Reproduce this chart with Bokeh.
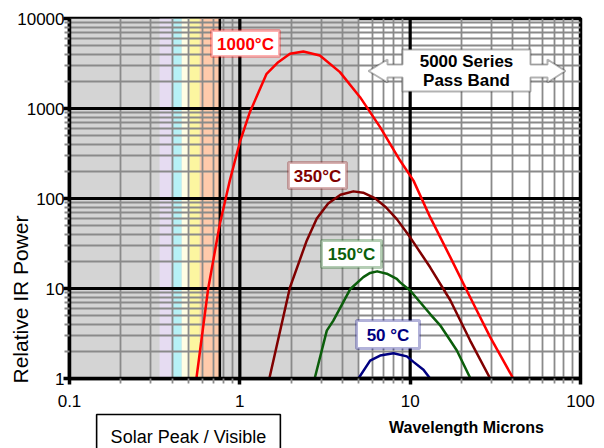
import math

from bokeh.plotting import figure
from bokeh.models import (FixedTicker, CustomJSTickFormatter, BoxAnnotation, Span,
                          Label, PolyAnnotation)
from bokeh.embed import file_html
from bokeh.resources import INLINE

# ---- data -----------------------------------------------------------------
X_TICKS = [0.1, 1, 10, 100]
Y_TICKS = [1, 10, 100, 1000, 10000]

# relative spectral power vs wavelength (microns) for four source temperatures
wl_1000 = [0.556, 0.652, 0.763, 0.809, 0.873, 1.0, 1.145, 1.436, 1.68, 1.97, 2.36,
           2.95, 3.87, 5.08, 6.66, 8.73, 10.46, 13.1, 17.2, 22.5, 29.5, 40.3]
pw_1000 = [1.0, 10, 52, 84, 158, 422, 910, 2430, 3270, 4050, 4300,
           3880, 2535, 1336, 621, 264, 158, 62, 22.3, 8.0, 2.88, 1.0]

wl_350 = [1.49, 1.97, 2.47, 2.83, 3.3, 3.9, 4.64, 5.3, 6.2, 7.2, 8.35, 10, 13.1,
          17.2, 22.5, 29.5]
pw_350 = [1.0, 10.3, 34, 60, 88, 110, 120, 116, 101, 80, 59, 37, 17.2,
          7.4, 2.64, 1.0]

wl_150 = [2.75, 3.24, 3.54, 4.44, 5.31, 5.82, 6.4, 7.29, 8.35, 8.73, 10, 13.1, 15,
          17.2, 18.8, 22.6]
pw_150 = [1.0, 3.4, 4.4, 9.8, 13.4, 14.9, 15.5, 14.6, 12.8, 11.7, 9.5, 5.2, 3.9,
          2.64, 2.05, 1.0]

wl_50 = [4.97, 5.82, 6.66, 7.98, 9.56, 10.5, 11.97, 13.1]
pw_50 = [1.0, 1.58, 1.8, 1.91, 1.76, 1.52, 1.25, 1.0]

series = [
    ("1000°C", wl_1000, pw_1000, "#ff0000"),
    ("350°C", wl_350, pw_350, "#800000"),
    ("150°C", wl_150, pw_150, "#0b5e0b"),
    ("50 °C", wl_50, pw_50, "#000080"),
]

# visible-light colour strips (edges in microns), shaded band, end of visible
vis_edges = [0.338, 0.398, 0.456, 0.508, 0.582, 0.763]
vis_colors = ["#e6dcf2", "#b6f1f6", "#fffde4", "#fcf6a0", "#ffcaab"]
SHADED_BAND = (0.1, 5.0)
VIS_LIMIT = 0.763

# ---- figure geometry --------------------------------------------------------
W, H = 604, 448
LEFT, TOP, RIGHT, BOTTOM = 69, 18, 580, 378
X_LO, X_HI = X_TICKS[0], X_TICKS[-1]
Y_LO, Y_HI = Y_TICKS[0], Y_TICKS[-1]
FONT = "Liberation Sans"


def at(px, py):
    """Canvas pixel position -> data coordinates of the log/log frame."""
    fx = (px - LEFT) / (RIGHT - LEFT)
    fy = (py - TOP) / (BOTTOM - TOP)
    x = 10 ** (math.log10(X_LO) + fx * (math.log10(X_HI) - math.log10(X_LO)))
    y = 10 ** (math.log10(Y_HI) - fy * (math.log10(Y_HI) - math.log10(Y_LO)))
    return x, y


def poly(points, line_color="black", line_width=2.0, fill="white"):
    xs, ys = zip(*(at(px, py) for px, py in points))
    return PolyAnnotation(xs=list(xs), ys=list(ys), fill_color=fill, fill_alpha=1.0,
                          line_color=line_color, line_width=line_width)


def text(px, py, s, size="17px", color="black", bold=False, angle=0.0, **kw):
    x, y = at(px, py)
    return Label(x=x, y=y, text=s, text_align="center", text_baseline="middle",
                 text_font=FONT, text_font_size=size, text_color=color,
                 text_font_style="bold" if bold else "normal", angle=angle, **kw)


p = figure(width=W, height=H, x_axis_type="log", y_axis_type="log",
           x_range=(X_LO, X_HI), y_range=(Y_LO, Y_HI),
           title=None, output_backend="svg", toolbar_location=None,
           min_border_left=LEFT, min_border_right=W - RIGHT,
           min_border_top=TOP, min_border_bottom=H - BOTTOM)
p.background_fill_color = "white"
p.border_fill_color = "white"
p.outline_line_color = "black"
p.outline_line_width = 3.5

# shaded band and visible spectrum, beneath the grid
p.add_layout(BoxAnnotation(left=SHADED_BAND[0], right=SHADED_BAND[1], fill_color="#d4d4d4",
                           fill_alpha=1.0, line_color=None, level="image"))
for lo, hi, c in zip(vis_edges[:-1], vis_edges[1:], vis_colors):
    p.add_layout(BoxAnnotation(left=lo, right=hi, fill_color=c, fill_alpha=1.0,
                               line_color=None, level="image"))

# ticks and grid: grey lines at 2..9 of each decade, black lines at the decades
x_minor = [m * t for t in X_TICKS[:-1] for m in range(2, 10)]
y_minor = [m * t for t in Y_TICKS[:-1] for m in range(2, 10)]
xt = FixedTicker(ticks=X_TICKS, minor_ticks=x_minor)
yt = FixedTicker(ticks=Y_TICKS, minor_ticks=y_minor)
p.xaxis.ticker = xt
p.yaxis.ticker = yt
p.xgrid.ticker = xt
p.ygrid.ticker = yt
for g in (p.xgrid, p.ygrid):
    g.grid_line_color = None
    g.minor_grid_line_color = "#8a8a8a"
    g.minor_grid_line_width = 1.8

for t in X_TICKS[1:-1]:
    p.add_layout(Span(location=t, dimension="height", line_color="black",
                      line_width=3.2, level="underlay"))
for t in Y_TICKS[1:-1]:
    p.add_layout(Span(location=t, dimension="width", line_color="black",
                      line_width=3.2, level="underlay"))
p.add_layout(Span(location=VIS_LIMIT, dimension="height", line_color="black",
                  line_width=2.5, level="underlay"))

fmt = CustomJSTickFormatter(code="return String(tick);")
for ax in (p.xaxis[0], p.yaxis[0]):
    ax.formatter = fmt
    ax.axis_line_color = "black"
    ax.axis_line_width = 3.5
    ax.major_tick_line_color = "black"
    ax.major_tick_line_width = 3.5
    ax.major_tick_in = 0
    ax.major_tick_out = 6
    ax.minor_tick_line_color = "#8a8a8a"
    ax.minor_tick_line_width = 1.8
    ax.minor_tick_in = 0
    ax.minor_tick_out = 5
    ax.major_label_text_font = FONT
    ax.major_label_text_font_size = "17px"
    ax.major_label_text_color = "black"
p.xaxis.major_label_standoff = 10
p.yaxis.major_label_standoff = -1

# emission curves
for name, wl, pw, color in series:
    p.line(wl, pw, line_color=color, line_width=2.5, line_join="round")

# temperature tags
tags = [
    ((211, 30, 279, 56), series[0]),
    ((288, 162, 346, 188), series[1]),
    ((321, 240, 381, 267), series[2]),
    ((356, 320, 419, 348), series[3]),
]
for (x0, y0, x1, y1), (name, _, _, color) in tags:
    p.add_layout(poly([(x0, y0), (x1, y0), (x1, y1), (x0, y1)], line_color=color,
                      line_width=3.0))
    p.add_layout(text((x0 + x1) / 2, (y0 + y1) / 2 + 0.5, name, color=color, bold=True))

# pass-band double arrow
band_shape = [(368, 70.5), (387, 59), (387, 64), (402, 64), (402, 49), (530, 49),
              (530, 64), (547, 64), (547, 59), (565, 70.5), (547, 82), (547, 77),
              (530, 77), (530, 91), (402, 91), (402, 77), (387, 77), (387, 82)]
p.add_layout(poly(band_shape, line_width=2.0))
p.add_layout(text(466, 61, "5000 Series", size="17px", bold=True))
p.add_layout(text(466, 80, "Pass Band", size="17px", bold=True))

# texts outside the frame sit in side panels (which are not clipped); their
# positions are in data units, so the panel they belong to only adds spacing
boxed = dict(border_line_color="black", border_line_width=1.6,
             background_fill_color="white", background_fill_alpha=1.0)
try:
    # padding given as (left, right, top, bottom)
    solar = text(188, 431.5, "Solar Peak / Visible", size="18px",
                 padding=(14, 14, 12, 3), **boxed)
except Exception:
    solar = text(188, 431.5, "Solar Peak / Visible", size="18px", padding=6, **boxed)
p.add_layout(solar, "below")
p.add_layout(text(466, 427, "Wavelength Microns", size="16px", bold=True), "above")
p.add_layout(text(20, 299, "Relative IR Power", size="21px", angle=math.pi / 2), "right")

open("out.html", "w").write(file_html(p, INLINE))
